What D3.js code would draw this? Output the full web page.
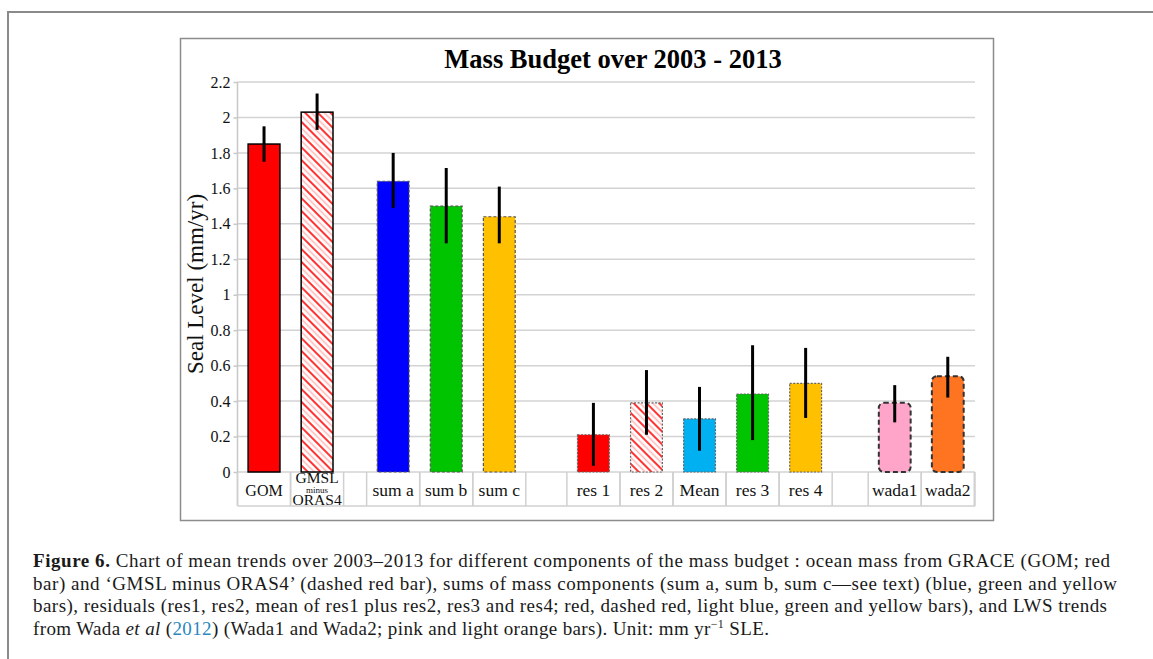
<!DOCTYPE html>
<html><head><meta charset="utf-8">
<script src="https://cdn.jsdelivr.net/npm/d3@7"></script>
<style>html,body{margin:0;padding:0;background:#fff;} svg{display:block;}</style>
</head><body>
<svg id="c" width="1153" height="659"></svg>
<script>
// ---- data ----
const categories = ["GOM","GMSL minus ORAS4","sum a","sum b","sum c","res 1","res 2","Mean","res 3","res 4","wada1","wada2"];
const groups = [0,0,1,1,1,2,2,2,2,2,3,3];
const values = [1.85,2.03,1.64,1.50,1.44,0.21,0.39,0.30,0.44,0.50,0.39,0.54];
const errUpper = [1.95,2.135,1.80,1.715,1.61,0.39,0.575,0.48,0.715,0.70,0.49,0.65];
const errLower = [1.75,1.93,1.49,1.29,1.29,0.035,0.21,0.12,0.18,0.305,0.28,0.42];
const yTicks = [0,0.2,0.4,0.6,0.8,1,1.2,1.4,1.6,1.8,2,2.2];
const yTickLabels = ["0","0.2","0.4","0.6","0.8","1","1.2","1.4","1.6","1.8","2","2.2"];
const title = "Mass Budget over 2003 - 2013";
const yLabel = "Seal Level (mm/yr)";

// ---- styles / layout ----
const fills = ["#FF0000","url(#hatch)","#0000FF","#00C400","#FFC000","#FF0000","url(#hatch)","#00B0F0","#00C400","#FFC000","#FFA5C9","#FF7420"];
const borderKinds = ["solid","solid","dash","dash","dash","dot","dot","dot","dot","dot","wada","wada"];
const groupOffset = [0, 0.434, 1.208, 1.887];
const serif = "'Liberation Serif','Times New Roman',serif";

const svg = d3.select("#c");
svg.append("rect").attr("width",1153).attr("height",659).attr("fill","#fff");

const defs = svg.append("defs");
const pat = defs.append("pattern").attr("id","hatch").attr("patternUnits","userSpaceOnUse")
  .attr("width",9).attr("height",9).attr("patternTransform","rotate(-45)");
pat.append("rect").attr("width",9).attr("height",9).attr("fill","#fff");
pat.append("line").attr("x1",1).attr("y1",0).attr("x2",1).attr("y2",9).attr("stroke","#FF1010").attr("stroke-width",1.7);
pat.append("line").attr("x1",5.5).attr("y1",0).attr("x2",5.5).attr("y2",9).attr("stroke","#FFB8B8").attr("stroke-width",1.6);

// outer frame
svg.append("path").attr("d","M8,659V12H1153").attr("fill","none").attr("stroke","#8a8a8a").attr("stroke-width",2);
// chart box
svg.append("rect").attr("x",180.5).attr("y",38.5).attr("width",813).attr("height",482)
  .attr("fill","#fff").attr("stroke","#8c8c8c").attr("stroke-width",1.5);

const x = d3.scaleLinear().domain([0,13.9]).range([237.5,975]);
const y = d3.scaleLinear().domain([0,2.2]).range([472,82]);
const slot = i => i + groupOffset[groups[i]];

// title
svg.append("text").attr("x",613).attr("y",68).attr("text-anchor","middle")
  .attr("font-family",serif).attr("font-weight","bold").attr("font-size",26.5).text(title);

// gridlines
svg.append("g").selectAll("line").data(yTicks).join("line")
  .attr("x1",x(0)).attr("x2",x(13.9)).attr("y1",d=>y(d)).attr("y2",d=>y(d))
  .attr("stroke","#d3d3d3").attr("stroke-width",1.5);

// y axis
const yAxis = d3.axisLeft(y).tickValues(yTicks).tickSize(4).tickPadding(3)
  .tickFormat((d,i)=>yTickLabels[i]);
const ga = svg.append("g").attr("transform",`translate(${x(0)},0)`).call(yAxis);
ga.select(".domain").remove();
ga.selectAll(".tick line").attr("stroke","#c8c8c8").attr("stroke-width",1.5);
ga.selectAll(".tick text").attr("font-family",serif).attr("font-size",16).attr("fill","#111");
svg.append("line").attr("x1",x(0)).attr("x2",x(0)).attr("y1",y(2.2)).attr("y2",506)
  .attr("stroke","#c8c8c8").attr("stroke-width",1.5);

// y label
svg.append("text").attr("transform","translate(203,284) rotate(-90)").attr("text-anchor","middle")
  .attr("font-family",serif).attr("font-size",23).attr("fill","#111").text(yLabel);

// category table
const idx = d3.range(categories.length);
const bounds = [];
idx.forEach(i=>{bounds.push(slot(i)); bounds.push(slot(i)+1);});
bounds.push(13.9);
svg.append("g").selectAll("line").data(bounds).join("line")
  .attr("x1",d=>x(d)).attr("x2",d=>x(d)).attr("y1",472).attr("y2",506)
  .attr("stroke","#d0d0d0").attr("stroke-width",1.5);
svg.append("line").attr("x1",x(0)).attr("x2",x(13.9)).attr("y1",506).attr("y2",506)
  .attr("stroke","#d0d0d0").attr("stroke-width",1.5);

// bars
const bw = x(0.8)-x(0.2);
const bars = svg.append("g");
idx.forEach(i=>{
  const kind = borderKinds[i];
  const r = bars.append("rect")
    .attr("x",x(slot(i)+0.2)).attr("y",y(values[i]))
    .attr("width",bw).attr("height",y(0)-y(values[i]))
    .attr("fill",fills[i]);
  if(kind==="solid") r.attr("stroke","#000").attr("stroke-width",1.5);
  else if(kind==="dash") r.attr("stroke","#555").attr("stroke-width",1.2).attr("stroke-dasharray","3,2");
  else if(kind==="dot") r.attr("stroke","#666").attr("stroke-width",1.2).attr("stroke-dasharray","2,1.5");
  else r.attr("stroke","#333").attr("stroke-width",2).attr("stroke-dasharray","5,3").attr("rx",5).attr("ry",5);
});

// error bars
svg.append("g").selectAll("line").data(idx).join("line")
  .attr("x1",i=>x(slot(i)+0.5)).attr("x2",i=>x(slot(i)+0.5))
  .attr("y1",i=>y(errUpper[i])).attr("y2",i=>y(errLower[i]))
  .attr("stroke","#000").attr("stroke-width",3);

// category labels
const lab = svg.append("g").attr("font-family",serif).attr("fill","#111").attr("text-anchor","middle");
idx.forEach(i=>{
  const cx = x(slot(i)+0.5);
  const parts = categories[i].split(" minus ");
  if(parts.length===2){
    lab.append("text").attr("x",cx).attr("y",483).attr("font-size",15.5).text(parts[0]);
    lab.append("text").attr("x",cx).attr("y",492.5).attr("font-size",9).text("minus");
    lab.append("text").attr("x",cx).attr("y",505).attr("font-size",15.5).text(parts[1]);
  } else {
    lab.append("text").attr("x",cx).attr("y",496).attr("font-size",i===0?16:17.5).text(categories[i]);
  }
});

// caption
const cap = svg.append("g").attr("font-family",serif).attr("font-size",19).attr("fill","#1a1a1a");
const l1 = cap.append("text").attr("x",33).attr("y",567).attr("textLength",1077).attr("lengthAdjust","spacing");
l1.append("tspan").attr("font-weight","bold").text("Figure 6.");
l1.append("tspan").text(" Chart of mean trends over 2003\u20132013 for different components of the mass budget : ocean mass from GRACE (GOM; red");
cap.append("text").attr("x",33).attr("y",589.5).attr("textLength",1084).attr("lengthAdjust","spacing")
  .text("bar) and \u2018GMSL minus ORAS4\u2019 (dashed red bar), sums of mass components (sum a, sum b, sum c\u2014see text) (blue, green and yellow");
cap.append("text").attr("x",33).attr("y",612).attr("textLength",1074).attr("lengthAdjust","spacing")
  .text("bars), residuals (res1, res2, mean of res1 plus res2, res3 and res4; red, dashed red, light blue, green and yellow bars), and LWS trends");
const l4 = cap.append("text").attr("x",33).attr("y",634.5).attr("textLength",736).attr("lengthAdjust","spacing");
l4.append("tspan").text("from Wada ");
l4.append("tspan").attr("font-style","italic").text("et al");
l4.append("tspan").text(" (");
l4.append("tspan").attr("fill","#2a87c0").text("2012");
l4.append("tspan").text(") (Wada1 and Wada2; pink and light orange bars). Unit: mm yr");
l4.append("tspan").attr("font-size",12).attr("dy",-7).text("\u22121");
l4.append("tspan").attr("dy",7).text(" SLE.");
</script>
</body></html>
